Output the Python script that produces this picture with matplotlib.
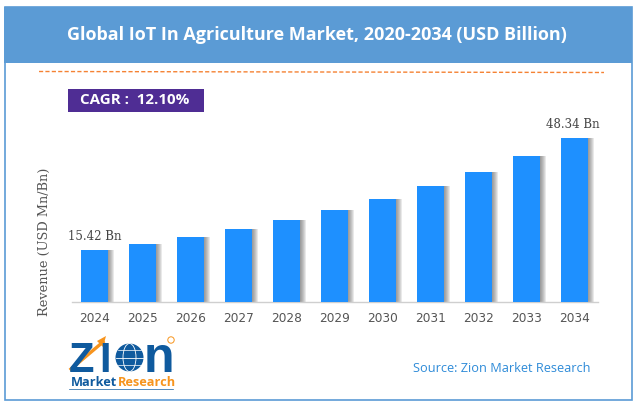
import numpy as np
import matplotlib
matplotlib.use('Agg')
import matplotlib.pyplot as plt
from matplotlib.patches import Rectangle, Circle, Ellipse, Polygon

W, H = 634, 403

years = ['2024', '2025', '2026', '2027', '2028', '2029', '2030', '2031', '2032', '2033', '2034']
revenue = [15.42, 17.1, 19.2, 21.5, 24.2, 27.1, 30.4, 34.2, 38.3, 43.1, 48.34]

BLUE = '#5b9bd5'
BAR = '#1e90ff'

fig = plt.figure(figsize=(W / 100, H / 100), dpi=100)

# fond en pixels pour le cadre, le bandeau et le logo
bg = fig.add_axes([0, 0, 1, 1])
bg.set_xlim(0, W)
bg.set_ylim(H, 0)
bg.axis('off')

bg.add_patch(Rectangle((4.5, 7), 627, 393, fc='white', ec=BLUE, lw=1.2))
bg.add_patch(Rectangle((4, 7), 628, 56, fc=BLUE, ec='none'))
bg.text(316.5, 35, 'Global IoT In Agriculture Market, 2020-2034 (USD Billion)', color='white',
        fontsize=12.95, fontweight='bold', family='Open Sans', ha='center', va='center')
bg.plot([39, 604], [71.5, 72.5], color='#f58233', lw=1.0, dashes=(3, 1.6))

bg.add_patch(Rectangle((68, 89), 136, 23, fc='#4f2d94', ec='none'))
bg.text(135, 100.5, 'CAGR :  12.10%', color='white', fontsize=10.9, fontweight='bold',
        family='Open Sans', ha='center', va='center')

# logo
bg.text(69, 372, 'Z', color='#0f5a9e', fontsize=30, fontweight='bold', family='Liberation Sans',
        ha='left', va='baseline')
bg.text(99, 372, 'I', color='#0f5a9e', fontsize=30, fontweight='bold', family='Liberation Sans',
        ha='left', va='baseline')
bg.text(144, 372, 'n', color='#0f5a9e', fontsize=36, fontweight='bold', family='Liberation Sans',
        ha='left', va='baseline')
bg.add_patch(Circle((129.5, 357.5), 14, fc='#0f5a9e', ec='none'))
bg.add_patch(Ellipse((129.5, 357.5), 13, 28, fc='none', ec='white', lw=0.6))
bg.plot([116, 143], [357.5, 357.5], color='white', lw=0.6)
bg.plot([118, 141], [350, 350], color='white', lw=0.5)
bg.plot([118, 141], [365, 365], color='white', lw=0.5)
bg.plot([71, 103], [369, 342], color='#f7941d', lw=2.4)
bg.add_patch(Polygon([[106, 336], [97, 341], [103, 347]], fc='#f7941d', ec='none'))
bg.add_patch(Circle((171, 340), 3.2, fc='none', ec='#f7941d', lw=0.7))
bg.text(71, 382, 'Market', color='#0f5a9e', fontsize=9.2, fontweight='bold', family='Open Sans',
        ha='left', va='center')
bg.text(118, 382, 'Research', color='#f7941d', fontsize=9.2, fontweight='bold', family='Open Sans',
        ha='left', va='center')
bg.plot([69, 173], [388.5, 388.5], color='#0f5a9e', lw=0.5)

bg.text(502, 369, 'Source: Zion Market Research', color='#2e8bd8', fontsize=9.2,
        family='Open Sans', ha='center', va='center')

# graphique: axe de 72 a 598 px, base a 302 px
left, right, bottom, top = 72, 598, 302, 120
ax = fig.add_axes([left / W, 1 - bottom / H, (right - left) / W, (bottom - top) / H])
ax.patch.set_alpha(0)

x = np.arange(len(years))
px = 48.0  # pixels par categorie
ax.set_xlim(-(94.5 - left) / px, (right - 94.5) / px)
ax.set_ylim(0, (bottom - top) / 3.39)

# ombre a droite des barres
for off in range(1, 7):
    ax.bar(x + off / px, revenue, width=27 / px, color='#555555', alpha=0.13, linewidth=0, zorder=2)
ax.bar(x, revenue, width=27 / px, color=BAR, linewidth=0, zorder=3)

for side in ['top', 'right', 'left']:
    ax.spines[side].set_visible(False)
ax.spines['bottom'].set_color('#cfcfcf')
ax.spines['bottom'].set_linewidth(1.0)
ax.set_yticks([])
ax.set_xticks(x)
ax.set_xticklabels(years, fontsize=8.7, color='#555555', family='DejaVu Sans')
ax.tick_params(axis='x', length=0, pad=7.5)

ax.annotate('15.42 Bn', (x[0], revenue[0]), xytext=(0.5, 5), textcoords='offset points',
            ha='center', va='bottom', fontsize=8.5, color='#444444', family='DejaVu Serif')
ax.annotate('48.34 Bn', (x[-1], revenue[-1]), xytext=(-1, 5), textcoords='offset points',
            ha='center', va='bottom', fontsize=8.5, color='#444444', family='DejaVu Serif')

bg.text(44, 242, 'Revenue (USD Mn/Bn)', rotation=90, fontsize=9.3, color='#555555',
        family='DejaVu Serif', ha='center', va='center')

fig.savefig('out.png', dpi=100)
